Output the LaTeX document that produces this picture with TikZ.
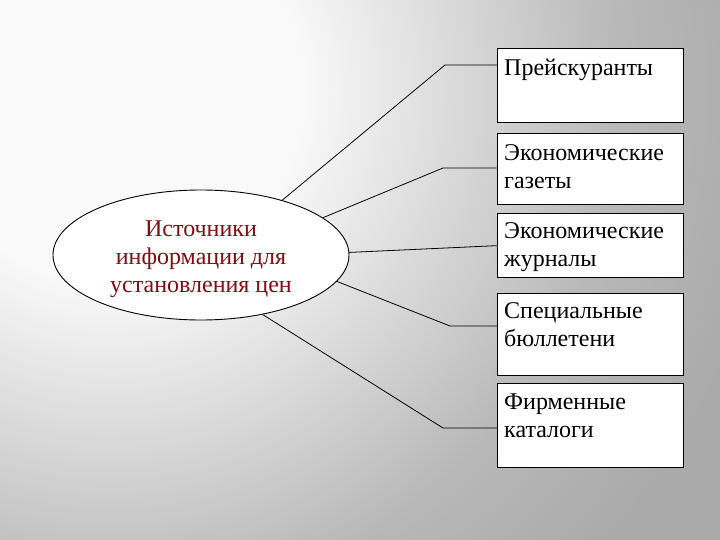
\documentclass[tikz,border=0pt]{standalone}
\usepackage{fontspec}
\setmainfont{Liberation Serif}
\usetikzlibrary{shapes.geometric}
\usetikzlibrary{calc}

\definecolor{srcred}{HTML}{840C10}
\definecolor{bglight}{HTML}{F9F9F9}
\definecolor{bgmid}{HTML}{B8B8B8}
\definecolor{bgdark}{HTML}{AAAAAA}
\pgfdeclareradialshading{slidebg}{\pgfpoint{0bp}{0bp}}{color(0bp)=(bglight); color(6bp)=(bglight); color(16bp)=(bgmid); color(21bp)=(bgdark); color(50bp)=(bgdark)}

\begin{document}
\begin{tikzpicture}
[x=1pt,y=1pt,font=\fontsize{24}{28}\selectfont,
 itembox/.style={rectangle,draw,line width=1.3pt,fill=white,anchor=north west,inner sep=0pt,minimum width=186pt},
 itemtext/.style={anchor=base west,inner sep=0pt,text width=178pt,align=left},
 wire/.style={line width=0.8pt}]

\useasboundingbox (0,0) rectangle (720,-540);
\begin{scope}
\clip (0,0) rectangle (720,-540);
\fill[bgdark] (0,0) rectangle (720,-540);
\shade[shading=slidebg] (110,-90) circle (800pt);
\end{scope}

\node[ellipse,draw,line width=0.9pt,fill=white,minimum width=296pt,minimum height=130pt,inner sep=0pt] (src) at (201,-255) {};
\node[text=srcred,align=center,inner sep=0pt] (srclbl) at (201,-259.5) {Источники\\информации для\\установления цен};

\foreach \n/\y/\h in {b1/48/74,b2/133/71,b3/213/64,b4/293/82,b5/383/84}
\node[itembox,minimum height=\h pt] (\n) at (497,-\y) {};

\node[itemtext] (t1) at ($(b1.north west)+(7,-28)$) {Прейскуранты};
\node[itemtext] (t2) at ($(b2.north west)+(7,-27.5)$) {Экономические\\газеты};
\node[itemtext] (t3) at ($(b3.north west)+(7,-26)$) {Экономические\\журналы};
\node[itemtext] (t4) at ($(b4.north west)+(7,-25.5)$) {Специальные\\бюллетени};
\node[itemtext] (t5) at ($(b5.north west)+(7,-26)$) {Фирменные\\каталоги};

%knees
\coordinate (k1) at (445,-65);
\coordinate (k2) at (443,-168);
\coordinate (k4) at (450,-326);
\coordinate (k5) at (443,-428);

\foreach \a/\k/\to in {34/k1/b1,17/k2/b2,349/k4/b4,316/k5/b5}
\draw[wire] (src.\a) -- (\k) -- (\k -| \to.west);

\draw[wire] (src.1) -- (b3.west);

\end{tikzpicture}
\end{document}
